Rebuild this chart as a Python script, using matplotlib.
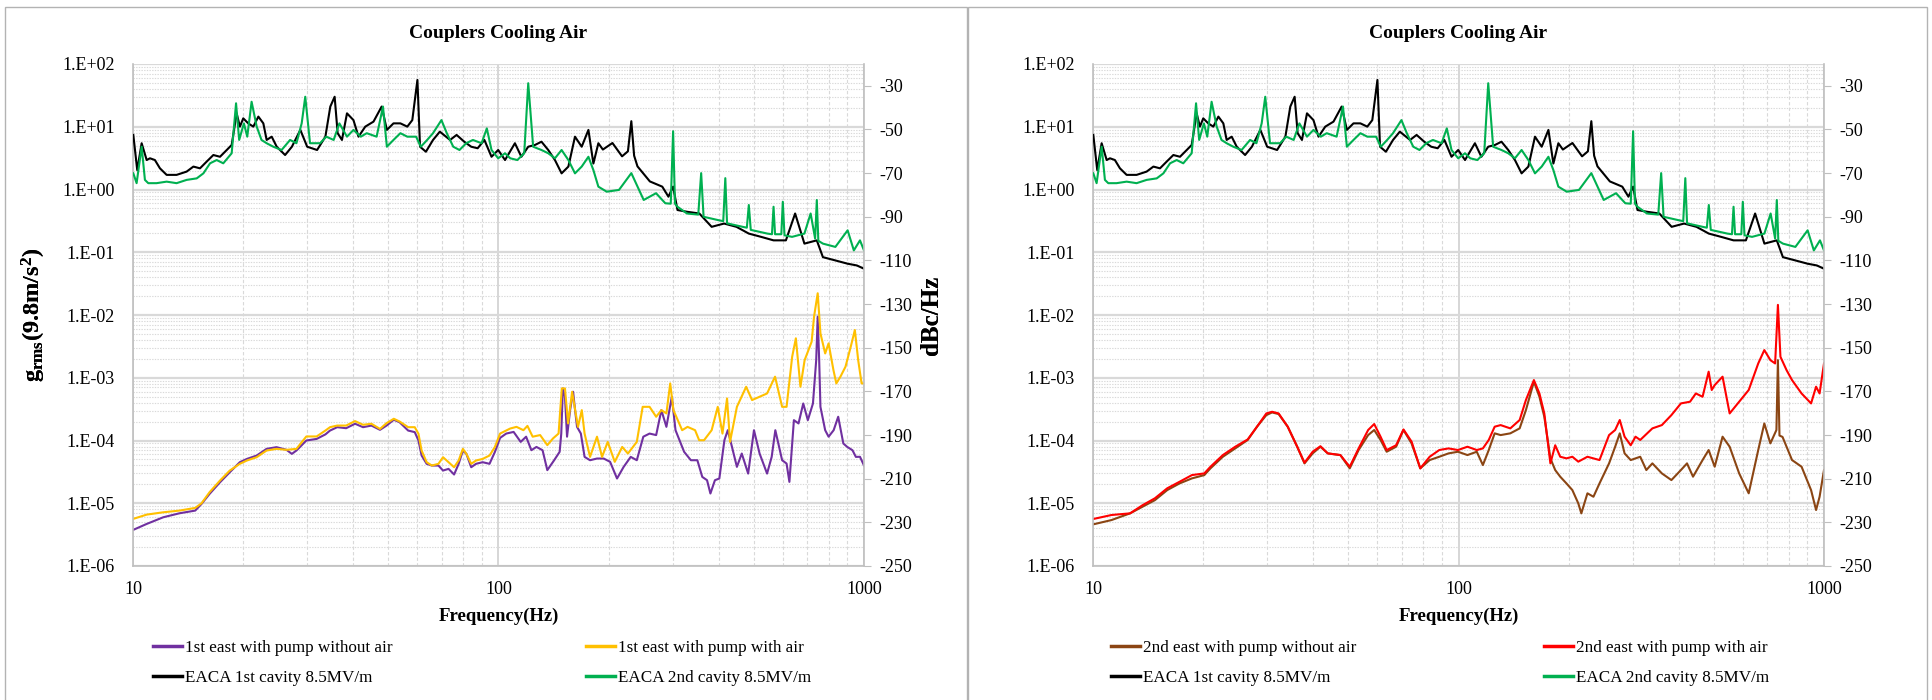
import matplotlib
matplotlib.use("Agg")
import matplotlib.pyplot as plt
from matplotlib.patches import Rectangle
from matplotlib.lines import Line2D

plt.rcParams['font.family'] = ['Liberation Serif', 'DejaVu Serif']
plt.rcParams['mathtext.fontset'] = 'custom'
plt.rcParams['mathtext.rm'] = 'Liberation Serif'
plt.rcParams['mathtext.bf'] = 'Liberation Serif:bold'
plt.rcParams['axes.unicode_minus'] = False

# ---------------- data ----------------
title = 'Couplers Cooling Air'
y_ticks = [1e-6, 1e-5, 1e-4, 1e-3, 1e-2, 1e-1, 1e0, 1e1, 1e2]
y_tick_labels = ['1.E-06', '1.E-05', '1.E-04', '1.E-03', '1.E-02', '1.E-01', '1.E+00', '1.E+01', '1.E+02']
x_ticks = [10, 100, 1000]
x_tick_labels = ['10', '100', '1000']
db_ticks = [-250, -230, -210, -190, -170, -150, -130, -110, -90, -70, -50, -30]

# phase noise, EACA cavities (dBc/Hz, right axis), same in both panels
black_freq = [10.02, 10.27, 10.56, 10.9, 11.13, 11.48, 11.85, 12.36, 13.16, 14.02,
              14.63, 15.25, 15.91, 16.59, 17.3, 18.05, 18.62, 19.21, 19.61, 20.03,
              20.67, 21.34, 22.03, 22.73, 23.21, 23.96, 24.73, 26.07, 27.21, 28.7,
              29.96, 31.89, 33.6, 34.66, 35.62, 36.3, 37.3, 38.5, 40.1, 41.4,
              43.2, 45.5, 47.9, 49.5, 51.6, 53.9, 56.3, 58.1, 60.0, 61.0,
              63.3, 66.2, 69.1, 73.7, 76.8, 80.6, 84.2, 87.7, 91.5, 95.7,
              99.8, 104.2, 110.9, 115.5, 120.6, 125.8, 131.1, 136.8, 142.7, 148.8,
              155.3, 161.9, 168.9, 176.2, 181.8, 187.6, 193, 205, 217.8, 226,
              230.9, 235, 240, 259.5, 280.6, 291.7, 300.4, 308.8, 327.9, 354.4,
              383, 414.2, 447.7, 484, 523, 565.6, 611.4, 648, 687, 742.8,
              772, 835, 902, 956, 1000]
black_db = [-52.5, -68.6, -56.3, -64, -63.2, -64, -67.8, -70.8, -70.8, -69.3,
            -67, -67.8, -64.7, -61.7, -62.5, -59.4, -57.1, -42.6, -48.7, -44.9,
            -47.2, -48.7, -44.1, -47.2, -54.8, -53.3, -57.9, -61.7, -57.9, -50.2,
            -57.9, -59.4, -53.3, -39.5, -35, -51.7, -54.8, -42.6, -45.7, -53.3,
            -48.7, -46.4, -39.5, -50.2, -47.2, -47.2, -48.7, -45.7, -27.3, -57.9,
            -60.2, -54.8, -51, -54.8, -52.5, -55.6, -57.9, -58.6, -54.8, -62.5,
            -59.4, -64, -56.3, -62.5, -57.9, -57.1, -55.6, -59.4, -64, -70.1,
            -67, -53.3, -57.9, -50.2, -65.6, -56.3, -59.2, -56.2, -62.3, -60,
            -46.2, -62, -66.9, -73.8, -76.2, -80.8, -76.2, -86.9, -87.7, -88.5,
            -94.6, -93.1, -94.6, -97.7, -99.2, -100.8, -100.8, -88.5, -102.3, -100.8,
            -108.5, -110, -111.5, -112.3, -113.8]

green_freq = [10.02, 10.23, 10.56, 10.78, 11.01, 11.6, 12.36, 13.16, 14.02, 14.94,
              15.58, 16.25, 16.94, 17.66, 18.62, 19.14, 19.52, 20.11, 20.54, 21.11,
              21.8, 22.47, 23.21, 24.2, 25.5, 26.9, 28.0, 28.94, 29.6, 30.5,
              32.5, 33.8, 35.4, 36.7, 38.5, 40.1, 42.0, 43.6, 46.4, 48.3,
              49.5, 51.6, 53.9, 56.3, 59.5, 61.3, 63.8, 66.2, 69.8, 72.2,
              75.2, 78.2, 81.6, 85.1, 89.9, 92.9, 95.7, 99.8, 104.2, 107.7,
              112.6, 117.6, 120.6, 124.4, 131.1, 136.8, 142.7, 148.8, 155.3, 161.9,
              168.9, 176.2, 181.8, 187.6, 197.7, 213.6, 230.9, 249.6, 269.8, 286,
              296, 300.4, 304, 308.8, 327.9, 352, 358.5, 364, 398.4, 412,
              417.4, 422, 465.5, 478, 484, 490, 544, 560, 565.6, 571,
              594, 599.6, 606, 635.6, 687, 714.5, 735, 742.8, 750, 772,
              835, 902, 938, 975, 1000]
green_db = [-70.1, -74.6, -57.9, -73.1, -74.6, -74.6, -73.9, -74.6, -73.1, -72.4,
            -70.1, -65.5, -64, -65.5, -60.9, -38, -54.8, -47.2, -53.3, -37.3,
            -48.7, -54.8, -56.3, -57.9, -59.4, -54.8, -56.3, -47.2, -35, -56.3,
            -56.3, -53.3, -54.8, -47.2, -53.3, -50.2, -53.3, -51.7, -53.3, -39.5,
            -57.9, -54.8, -51.7, -53.3, -53.3, -57.9, -54.8, -51.7, -45.7, -51.7,
            -57.9, -59.4, -56.3, -54.8, -56.3, -49.5, -59.4, -63.2, -60.9, -63.2,
            -64, -60.9, -28.8, -57.9, -59.4, -60.9, -63.2, -59.4, -64, -70.1,
            -67, -62.5, -68.6, -76.2, -78.5, -77.7, -70, -82.3, -79.2, -83.8,
            -84, -50.8, -84, -85.4, -88.5, -89, -70, -90, -91.5, -92,
            -72.3, -93, -94.6, -95, -84.6, -96, -97.7, -98, -85.4, -98,
            -98, -83.1, -98.5, -99.2, -97.7, -88.5, -100, -82.3, -101, -102.3,
            -103.8, -96.2, -105.4, -100.8, -105.4]

# vibration, 1st east (g rms, left axis)
purple_freq = [10, 10.9, 12.1, 13.4, 14.8, 15.4, 16.2, 17.3, 18.4, 19.6, 20.5, 21.8, 23.2, 24.7, 26.3,
               27.2, 28.0, 29.8, 31.8, 33.6, 34.6, 36.2, 38.3, 40.5, 42.6, 44.9, 47.4, 49.4, 51.7, 53.6,
               56.6, 59.0, 60.4, 61.6, 63.6, 65.7, 68.5, 70.5, 73.0, 75.6, 77.8, 79.9, 81.7, 84.2, 86.8,
               90.5, 94.5, 97.7, 101, 105, 110, 115, 119, 123, 127, 132, 136, 142, 147, 148.5,
               150, 152, 154, 157, 160, 162, 164, 168, 172, 178, 186, 194, 202, 211, 220,
               230, 239, 249, 259, 270, 279, 288, 298, 305, 322, 336, 350, 361, 372, 380,
               391, 402, 415, 424, 433, 449, 463, 482, 500, 518, 543, 559, 572, 597, 614,
               625, 643, 662, 682, 702, 725, 740, 747, 754, 760, 783, 800, 826, 850, 878,
               900, 930, 950, 975, 1000]
purple_g = [3.75e-6, 4.68e-6, 5.98e-6, 6.92e-6, 7.64e-6, 9.77e-6, 1.41e-5, 2.16e-5, 3.12e-5, 4.51e-5, 5.09e-5, 5.76e-5, 7.36e-5, 7.83e-5, 7.1e-5,
            6.12e-5, 6.92e-5, 1.0e-4, 1.06e-4, 1.25e-4, 1.44e-4, 1.63e-4, 1.57e-4, 1.85e-4, 1.63e-4, 1.73e-4, 1.48e-4, 1.73e-4, 2.14e-4, 1.96e-4,
            1.44e-4, 1.36e-4, 1.0e-4, 5.77e-5, 4.25e-5, 3.99e-5, 3.99e-5, 3.32e-5, 3.53e-5, 2.87e-5, 4.25e-5, 6.92e-5, 6.12e-5, 3.75e-5, 4.25e-5,
            4.51e-5, 4.25e-5, 6.52e-5, 1.1e-4, 1.29e-4, 1.37e-4, 9.5e-5, 1.15e-4, 7.0e-5, 7.9e-5, 7.0e-5, 3.37e-5, 4.85e-5, 6.6e-5, 1.29e-4,
            6.76e-4, 4.98e-4, 1.15e-4, 3.05e-4, 5.98e-4, 3.05e-4, 1.65e-4, 1.29e-4, 5.48e-5, 4.85e-5, 5.16e-5, 5.16e-5, 4.57e-5, 2.48e-5, 3.8e-5,
            5.48e-5, 4.85e-5, 1.15e-4, 1.29e-4, 1.22e-4, 3.05e-4, 1.65e-4, 4.98e-4, 1.46e-4, 6.6e-5, 4.85e-5, 4.85e-5, 2.63e-5, 2.33e-5, 1.43e-5,
            2.33e-5, 2.48e-5, 1.01e-4, 1.46e-4, 8.95e-5, 3.8e-5, 6.2e-5, 2.97e-5, 1.46e-4, 6.2e-5, 2.97e-5, 5.48e-5, 1.46e-4, 4.85e-5, 4.29e-5,
            2.19e-5, 2.11e-4, 1.87e-4, 3.89e-4, 2.11e-4, 3.89e-4, 1.91e-3, 9.4e-3, 1.91e-3, 3.44e-4, 1.46e-4, 1.15e-4, 1.46e-4, 2.39e-4, 8.95e-5,
            7.9e-5, 7.0e-5, 5.48e-5, 5.5e-5, 4.0e-5]

gold_freq = [10, 10.9, 12.1, 13.4, 14.8, 15.4, 16.2, 17.3, 18.4, 19.6, 20.5, 21.8, 23.2, 24.7, 26.3,
             28.0, 29.8, 31.8, 33.6, 34.6, 36.2, 38.3, 40.5, 42.6, 44.9, 47.4, 49.4, 51.7, 53.6, 56.6,
             59.0, 60.4, 61.6, 63.6, 65.7, 68.5, 70.5, 73.0, 75.6, 77.8, 79.9, 81.7, 84.2, 86.8, 90.5,
             94.5, 97.7, 101, 107.6, 112, 117, 120, 124, 130, 136, 141, 146, 149, 152, 155,
             159, 165, 169, 172, 178, 186, 192, 199, 208, 218, 226, 239, 248, 259, 270,
             279, 288, 295, 301, 318, 329, 345, 354, 365, 383, 398, 410, 422, 430, 449,
             476, 494, 518, 543, 571, 597, 614, 636, 651, 670, 688, 719, 730, 747, 760,
             783, 800, 825, 840, 862, 890, 920, 944, 964, 985, 1000]
gold_g = [5.62e-6, 6.59e-6, 7.18e-6, 7.64e-6, 8.43e-6, 1.0e-5, 1.5e-5, 2.3e-5, 3.32e-5, 4.25e-5, 4.8e-5, 5.42e-5, 6.92e-5, 7.36e-5, 7.1e-5,
          7.36e-5, 1.16e-4, 1.16e-4, 1.44e-4, 1.63e-4, 1.73e-4, 1.73e-4, 2.04e-4, 1.78e-4, 1.85e-4, 1.53e-4, 1.89e-4, 2.22e-4, 2.01e-4, 1.63e-4,
          1.63e-4, 1.28e-4, 6.92e-5, 4.51e-5, 3.99e-5, 4.25e-5, 5.42e-5, 4.51e-5, 3.75e-5, 4.8e-5, 7.36e-5, 6.12e-5, 4.25e-5, 4.8e-5, 5.09e-5,
          5.76e-5, 7.83e-5, 1.29e-4, 1.55e-4, 1.65e-4, 1.46e-4, 1.71e-4, 1.15e-4, 1.22e-4, 8.43e-5, 1.08e-4, 1.29e-4, 6.76e-4, 6.76e-4, 1.87e-4,
          5.98e-4, 1.65e-4, 3.05e-4, 1.29e-4, 5.48e-5, 1.15e-4, 5.48e-5, 9.5e-5, 4.57e-5, 7.9e-5, 6.2e-5, 9.5e-5, 3.44e-4, 3.44e-4, 2.39e-4,
          3.05e-4, 2.7e-4, 8.13e-4, 3.05e-4, 1.46e-4, 1.65e-4, 1.46e-4, 1.01e-4, 1.01e-4, 1.46e-4, 3.44e-4, 1.29e-4, 4.68e-4, 9.5e-5, 3.44e-4,
          7.18e-4, 4.41e-4, 4.98e-4, 5.62e-4, 1.04e-3, 3.44e-4, 3.44e-4, 2.16e-3, 4.25e-3, 7.18e-4, 1.91e-3, 3.75e-3, 9.4e-3, 2.22e-2, 5.1e-3,
          2.44e-3, 3.53e-3, 1.32e-3, 8.13e-4, 1.04e-3, 1.5e-3, 3.13e-3, 5.77e-3, 1.91e-3, 8.13e-4, 8.13e-4]

# vibration, 2nd east
brown_freq = [10, 11.24, 12.63, 13.66, 14.77, 15.96, 17.25, 18.65, 20.16, 20.96, 22.66, 24.5, 26.5, 28.1, 29.8,
              30.9, 32.2, 34.1, 36.2, 37.9, 39.9, 41.9, 43.9, 47.5, 50.4, 53.3, 56.6, 58.8, 61.2, 63.6,
              67.5, 70.7, 74.4, 78.6, 83.4, 88.6, 93.9, 99.7, 105.8, 112.2, 116.6, 121, 125.6, 130.4, 138.6,
              147, 152.9, 160.8, 166.5, 171.7, 178.4, 183.9, 189.8, 197.4, 204.9, 212.7, 216.8, 225.3, 234, 243.1,
              258.2, 268.3, 276.2, 284.7, 295.9, 314.2, 326.5, 339.2, 360.1, 382.4, 406, 421.9, 438.2, 465.4, 483.5,
              502.3, 527.8, 551.9, 586, 622.3, 660.8, 686.6, 713.3, 741, 748, 755.4, 770.1, 817.6, 868.2, 921.8,
              951.3, 972.6, 1000]
brown_g = [4.6e-6, 5.4e-6, 6.9e-6, 8.8e-6, 1.12e-5, 1.62e-5, 2.07e-5, 2.49e-5, 2.81e-5, 3.6e-5, 5.51e-5, 7.48e-5, 1.02e-4, 1.66e-4, 2.54e-4,
           2.8e-4, 2.64e-4, 1.66e-4, 7.96e-5, 4.32e-5, 6.23e-5, 7.96e-5, 6.23e-5, 5.86e-5, 3.6e-5, 7.05e-5, 1.22e-4, 1.47e-4, 1.02e-4, 6.62e-5,
           7.96e-5, 1.47e-4, 9.0e-5, 3.6e-5, 4.88e-5, 5.51e-5, 6.23e-5, 6.62e-5, 5.86e-5, 6.62e-5, 4.06e-5, 7.05e-5, 1.3e-4, 1.22e-4, 1.3e-4,
           1.56e-4, 3.05e-4, 8.64e-4, 4.98e-4, 2.39e-4, 5.19e-5, 3.38e-5, 2.65e-5, 2.07e-5, 1.62e-5, 9.95e-6, 6.9e-6, 1.44e-5, 1.27e-5, 2.07e-5,
           4.32e-5, 7.96e-5, 1.3e-4, 6.23e-5, 4.88e-5, 5.51e-5, 3.38e-5, 4.32e-5, 2.99e-5, 2.34e-5, 3.38e-5, 4.32e-5, 2.65e-5, 4.88e-5, 7.05e-5,
           3.82e-5, 1.15e-4, 7.96e-5, 2.99e-5, 1.44e-5, 7.05e-5, 1.87e-4, 9.0e-5, 1.47e-4, 1.91e-3, 1.2e-4, 1.14e-4, 4.88e-5, 3.82e-5, 1.62e-5,
           7.8e-6, 1.27e-5, 3.38e-5]

red_freq = [10, 11.24, 12.63, 13.66, 14.77, 15.96, 17.25, 18.65, 20.16, 20.96, 22.66, 24.5, 26.5, 28.1, 29.8,
            30.9, 32.2, 34.1, 36.2, 37.9, 39.9, 41.9, 43.9, 47.5, 50.4, 53.3, 56.6, 58.8, 61.2, 63.6,
            67.5, 70.7, 74.4, 78.6, 83.4, 88.6, 93.9, 99.7, 105.8, 112.2, 116.6, 121, 125.6, 130.4, 138.6,
            147, 152.9, 160.8, 166.5, 171.7, 178.4, 183.9, 189.8, 197.4, 204.9, 212.7, 225.3, 243.1, 258.2, 268.3,
            276.2, 284.7, 295.9, 305, 314.2, 339.2, 360.1, 382.4, 406, 430, 446, 465.4, 483.5, 493, 502.3,
            527.8, 551.9, 586, 622.3, 660.8, 686.6, 713.3, 735, 748, 760, 790, 817.6, 868.2, 921.8, 951.3,
            972.6, 1000]
red_g = [5.6e-6, 6.5e-6, 6.9e-6, 9.3e-6, 1.2e-5, 1.73e-5, 2.2e-5, 2.81e-5, 2.99e-5, 3.82e-5, 5.86e-5, 7.96e-5, 1.04e-4, 1.66e-4, 2.7e-4,
         2.87e-4, 2.7e-4, 1.66e-4, 7.96e-5, 4.42e-5, 6.62e-5, 8.1e-5, 6.23e-5, 5.86e-5, 3.82e-5, 7.48e-5, 1.47e-4, 1.83e-4, 1.15e-4, 7.05e-5,
         8.4e-5, 1.5e-4, 9.6e-5, 3.6e-5, 5.51e-5, 7.05e-5, 7.48e-5, 7.05e-5, 7.96e-5, 7.05e-5, 7.48e-5, 1.02e-4, 1.66e-4, 1.76e-4, 1.56e-4,
         2.12e-4, 4.41e-4, 9.18e-4, 5.62e-4, 2.7e-4, 4.32e-5, 8.4e-5, 5.51e-5, 5.19e-5, 5.51e-5, 4.6e-5, 5.51e-5, 4.88e-5, 1.22e-4, 1.47e-4,
         2.12e-4, 1.15e-4, 8.4e-5, 1.15e-4, 1.02e-4, 1.56e-4, 1.76e-4, 2.54e-4, 3.9e-4, 4.15e-4, 5.62e-4, 4.98e-4, 1.25e-3, 6.38e-4, 7.64e-4,
         1.04e-3, 2.7e-4, 4.15e-4, 6.38e-4, 1.69e-3, 2.76e-3, 1.91e-3, 1.69e-3, 1.45e-2, 2.16e-3, 1.32e-3, 9.18e-4, 5.62e-4, 3.9e-4, 7.2e-4,
         5.62e-4, 1.69e-3]

panels = [
    dict(x0=133, panel=(5, 967), leg_x=(153, 586),
         vib=[('1st east with pump without air', purple_freq, purple_g, '#7030A0'),
              ('1st east with pump with air', gold_freq, gold_g, '#FFC000')]),
    dict(x0=1093, panel=(968, 1927), leg_x=(1111, 1544),
         vib=[('2nd east with pump without air', brown_freq, brown_g, '#8B4513'),
              ('2nd east with pump with air', red_freq, red_g, '#FF0000')]),
]
pn = [('EACA 1st cavity 8.5MV/m', black_freq, black_db, '#000000'),
      ('EACA 2nd cavity 8.5MV/m', green_freq, green_db, '#00B050')]

W, H = 1933, 700
fig = plt.figure(figsize=(W / 100, H / 100), dpi=100)
grid_col = '#d9d9d9'
axis_col = '#bfbfbf'

for p in panels:
    # panel frame
    px0, px1 = p['panel']
    fig.add_artist(Rectangle((px0 / W, -0.01), (px1 - px0) / W, 1.0 - 7 / H + 0.01,
                             transform=fig.transFigure, fill=False, ec='#b3b3b3', lw=1.0))

    ax = fig.add_axes([p['x0'] / W, (H - 566) / H, 731 / W, 502 / H])
    fig.text((p['x0'] + 365) / W, 1 - 33 / H, title, ha='center', va='center',
             fontsize=14, fontweight='bold')
    ax.set_xscale('log')
    ax.set_yscale('log')
    ax.set_xlim(10, 1000)
    ax.set_ylim(1e-6, 1e2)
    ax.grid(which='major', axis='y', color=grid_col, lw=1.6, ls='-')
    ax.grid(which='minor', axis='y', color=grid_col, lw=0.8, ls=(0, (1.2, 1.2)))
    ax.grid(which='major', axis='x', color='#cfcfcf', lw=1.2, ls='-')
    ax.grid(which='minor', axis='x', color=grid_col, lw=0.8, ls=(0, (3, 2)))
    ax.set_axisbelow(True)
    ax.set_xticks(x_ticks)
    ax.set_xticklabels(x_tick_labels)
    ax.set_yticks(y_ticks)
    ax.set_yticklabels(y_tick_labels)
    ax.tick_params(which='both', length=0, labelsize=13)
    ax.tick_params(axis='y', pad=13)
    ax.tick_params(axis='x', pad=11)
    for s in ['top', 'right']:
        ax.spines[s].set_visible(False)
    for s in ['left', 'bottom']:
        ax.spines[s].set_color(axis_col)
        ax.spines[s].set_linewidth(1.2)
    ax.set_xlabel('Frequency(Hz)', fontsize=13.5, fontweight='bold', labelpad=7)
    ax.set_ylabel(r'$\mathbf{g_{rms}(9.8m/s^2)}$', fontsize=17.5)
    ax.yaxis.set_label_coords((48 - p['x0']) / 731, 0.5)

    handles = []
    for lab, f, g, c in p['vib']:
        h, = ax.plot(f, g, color=c, lw=1.5, label=lab)
        handles.append(h)

    ax2 = ax.twinx()
    ax2.set_ylim(-250, -20)
    ax2.set_yticks(db_ticks)
    for s in ['top', 'left', 'bottom']:
        ax2.spines[s].set_visible(False)
    ax2.spines['right'].set_color(axis_col)
    ax2.spines['right'].set_linewidth(1.2)
    ax2.tick_params(axis='y', length=5, color=axis_col, labelsize=13, pad=6)
    ax2.set_ylabel('dBc/Hz', fontsize=18, fontweight='bold', rotation=90)
    ax2.yaxis.set_label_coords((920 - p['x0']) / 731, 0.5)
    for lab, f, d, c in pn:
        h, = ax2.plot(f, d, color=c, lw=1.5, label=lab)
        handles.append(h)

    # legend: two columns, row 1 vibration, row 2 phase noise
    cols = [[handles[0], handles[2]], [handles[1], handles[3]]]
    for lx, hs in zip(p['leg_x'], cols):
        proxies = [Line2D([], [], color=h.get_color(), lw=2.5) for h in hs]
        fig.legend(proxies, [h.get_label() for h in hs], loc='upper left',
                   bbox_to_anchor=(lx / W, 1 - 640 / H), frameon=False, fontsize=12.3,
                   handlelength=1.7, handletextpad=0.15, labelspacing=0.8,
                   borderpad=0, borderaxespad=0)

fig.savefig('out.png', dpi=100, facecolor='white')
